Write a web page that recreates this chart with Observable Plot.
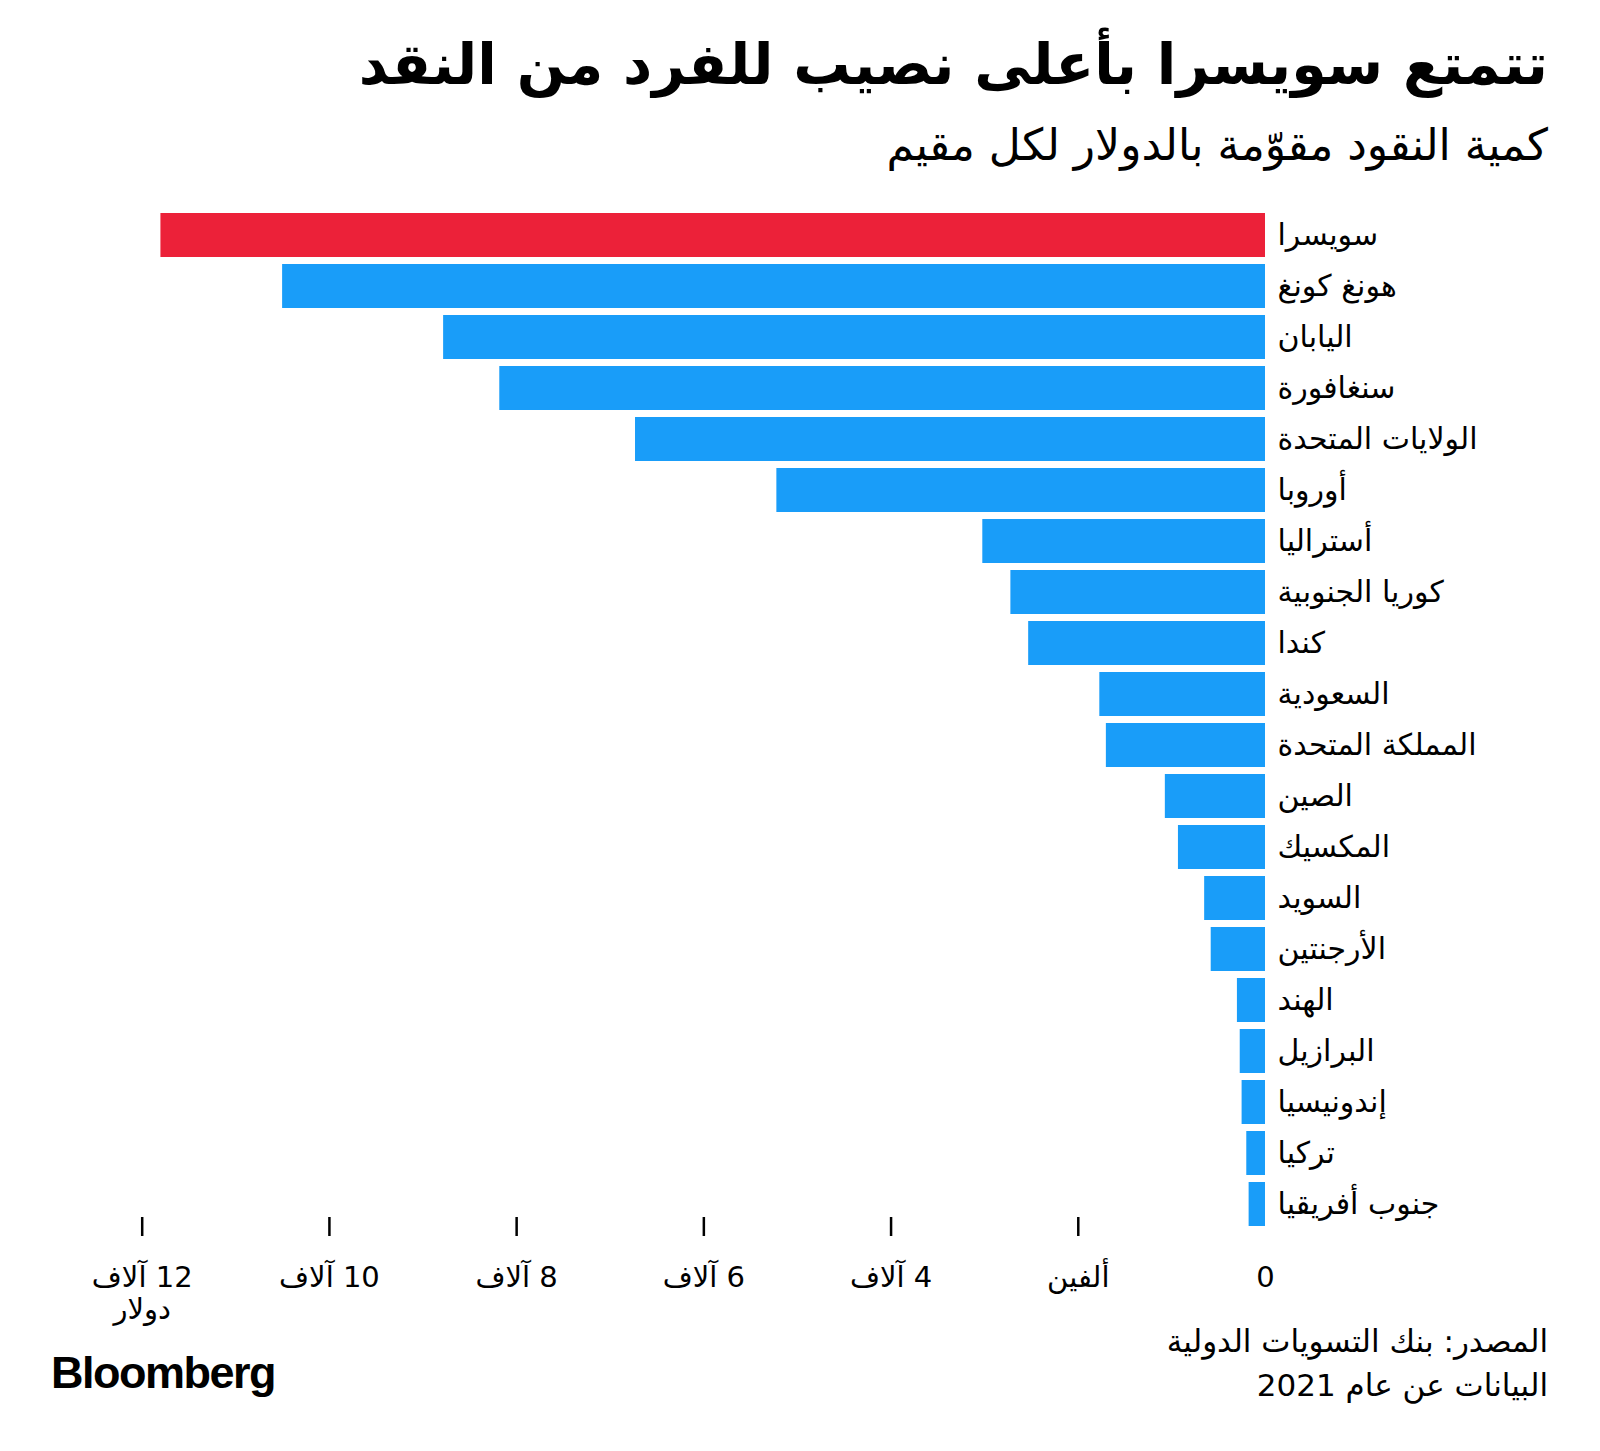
<!DOCTYPE html>
<html lang="ar">
<head>
<meta charset="utf-8">
<script src="https://cdn.jsdelivr.net/npm/d3@7"></script>
<script src="https://cdn.jsdelivr.net/npm/@observablehq/plot@0.6"></script>
<style>
  html, body { margin: 0; padding: 0; background: #fff; }
  #page { position: relative; width: 1600px; height: 1451px; overflow: hidden; font-family: "DejaVu Sans", sans-serif; color: #000; }
  .t { position: absolute; white-space: nowrap; line-height: 1; }
  #title { right: 52px; top: 36px; font-size: 57px; font-weight: bold; direction: rtl; }
  #subtitle { right: 52px; top: 123px; font-size: 44px; direction: rtl; }
  #source { right: 52px; top: 1319px; font-size: 31px; direction: rtl; text-align: right; line-height: 44px; }
  #logo { left: 51px; top: 1350px; font-family: "Liberation Sans", Arial, sans-serif; font-weight: bold; font-size: 45px; letter-spacing: -1.5px; }
  #chart { position: absolute; left: 0; top: 190px; }
</style>
</head>
<body>
<div id="page">
  <div class="t" id="title">تتمتع سويسرا بأعلى نصيب للفرد من النقد</div>
  <div class="t" id="subtitle">كمية النقود مقوّمة بالدولار لكل مقيم</div>
  <div id="chart"></div>
  <div class="t" id="source">المصدر: بنك التسويات الدولية<br>البيانات عن عام 2021</div>
  <div class="t" id="logo">Bloomberg</div>
</div>
<script>
// Data (cash per resident, US dollars, 2021)
const countries = ["سويسرا","هونغ كونغ","اليابان","سنغافورة","الولايات المتحدة","أوروبا","أستراليا","كوريا الجنوبية","كندا","السعودية","المملكة المتحدة","الصين","المكسيك","السويد","الأرجنتين","الهند","البرازيل","إندونيسيا","تركيا","جنوب أفريقيا"];
const values = [11800, 10500, 8780, 8180, 6730, 5220, 3020, 2720, 2530, 1770, 1700, 1070, 930, 650, 580, 300, 270, 250, 200, 175];
const highlighted = ["سويسرا"];
const tickValues = [0, 2000, 4000, 6000, 8000, 10000, 12000];
const tickLabels = ["0", "ألفين", "4 آلاف", "6 آلاف", "8 آلاف", "10 آلاف", "12 آلاف\nدولار"];

const RED = "#ec2139", BLUE = "#199df9";
const rows = countries.map((c, i) => ({country: c, value: values[i], hi: highlighted.includes(c)}));
const labelOf = new Map(tickValues.map((v, i) => [v, "\u200F" + tickLabels[i].split("\n").join("\n\u200F")]));

const W = 1600, H = 1140;
const chart = Plot.plot({
  width: W,
  height: H,
  marginLeft: 141.7,
  marginRight: 335,
  marginTop: 14,
  marginBottom: 113,
  style: {fontFamily: "DejaVu Sans, sans-serif", fontSize: "29px", color: "#000", background: "#fff"},
  x: {domain: [0, 12000], reverse: true},
  y: {domain: countries, range: [14, 1044.7], padding: 0.13},
  marks: [
    Plot.barX(rows, {x1: 0, x2: "value", y: "country", fill: d => d.hi ? RED : BLUE}),
    Plot.axisY({anchor: "right", tickSize: 0, tickPadding: 12, fontSize: 30, textAnchor: "start", label: null}),
    Plot.axisX({ticks: tickValues.filter(v => v !== 0), tickSize: 19, strokeWidth: 2.5, stroke: "#000", tickFormat: () => "", label: null}),
    Plot.axisX({ticks: tickValues, tickSize: 0, tickPadding: 46, fontSize: 29, lineHeight: 1.12, tickFormat: v => labelOf.get(v), label: null})
  ]
});
document.getElementById("chart").appendChild(chart);
</script>
</body>
</html>
